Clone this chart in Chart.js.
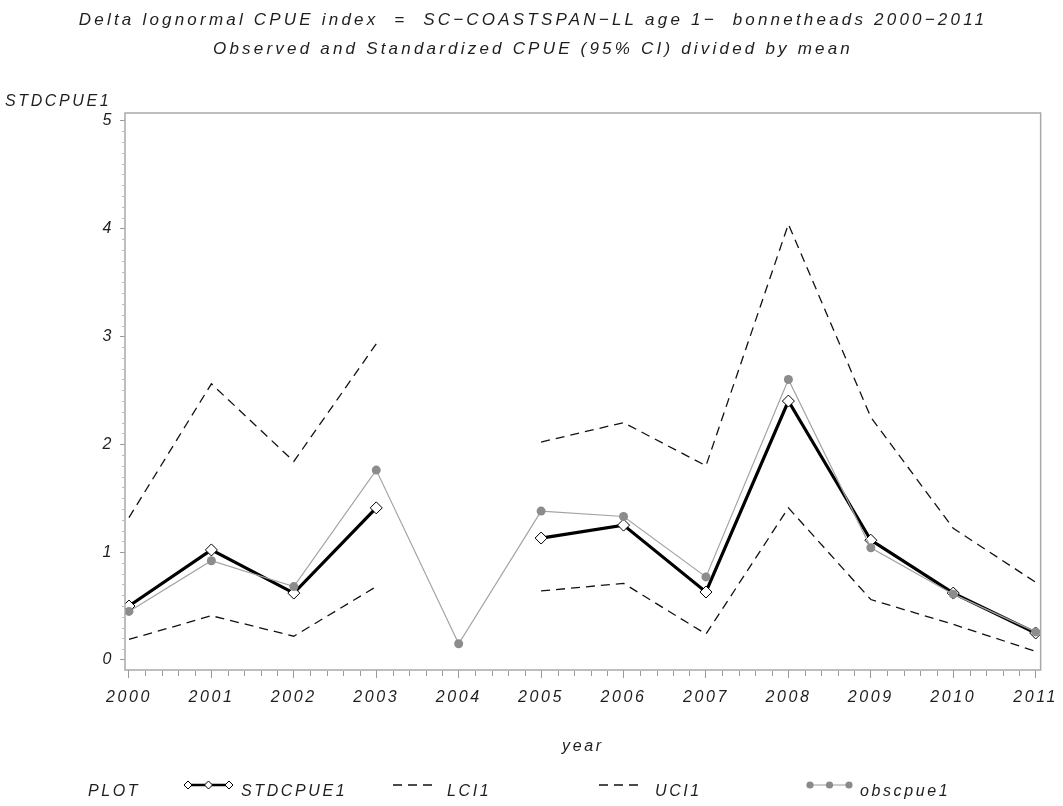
<!DOCTYPE html>
<html>
<head>
<meta charset="utf-8">
<script src="https://cdn.jsdelivr.net/npm/chart.js@4.4.1/dist/chart.umd.min.js"></script>
<style>
  html, body { margin: 0; padding: 0; background: #ffffff; }
  #wrap { width: 1063px; height: 806px; position: relative; }
</style>
</head>
<body>
<div id="wrap"><canvas id="c" width="1063" height="806"></canvas></div>
<script>
// Years on the horizontal axis
const years = [2000, 2001, 2002, 2003, 2004, 2005, 2006, 2007, 2008, 2009, 2010, 2011];
// Standardized CPUE (scaled by its mean) with 95% confidence limits; 2004 has no estimate
const stdcpue1 = [0.50, 1.02, 0.62, 1.41, null, 1.13, 1.25, 0.63, 2.40, 1.11, 0.62, 0.25];
const lci1     = [0.19, 0.41, 0.22, 0.68, null, 0.64, 0.71, 0.24, 1.41, 0.56, 0.33, 0.08];
const uci1     = [1.32, 2.56, 1.84, 2.93, null, 2.02, 2.20, 1.80, 4.04, 2.25, 1.22, 0.72];
// Observed CPUE (scaled by its mean)
const obscpue1 = [0.45, 0.92, 0.68, 1.76, 0.15, 1.38, 1.33, 0.77, 2.60, 1.04, 0.61, 0.26];
// Labelled ticks on the vertical axis
const yTicks = [0, 1, 2, 3, 4, 5];

const titleLines = [
  'Delta lognormal CPUE index  =  SC\u2212COASTSPAN\u2212LL age 1\u2212  bonnetheads 2000\u22122011',
  'Observed and Standardized CPUE (95% CI) divided by mean'
];
const yAxisLabel = 'STDCPUE1';
const xAxisLabel = 'year';

const FONT = "'Liberation Sans', Arial, sans-serif";
const TEXT = '#1e1e1e';
const SPACING = '2.6px';

const pts = arr => years.map((x, i) => ({ x: x, y: arr[i] }));

// Box round the plot area, minor ticks, titles and the legend row
const decor = {
  id: 'decor',
  beforeDraw(chart) {
    chart.ctx.letterSpacing = SPACING;
  },
  afterDraw(chart) {
    const { ctx, chartArea: a, scales } = chart;
    const xs = scales.x, ys = scales.y;
    ctx.save();
    ctx.letterSpacing = SPACING;

    // frame
    ctx.strokeStyle = '#a9a9a9';
    ctx.lineWidth = 1.5;
    ctx.strokeRect(a.left, a.top, a.right - a.left, a.bottom - a.top);

    // minor ticks on y (every 0.1)
    ctx.strokeStyle = '#bdbdbd';
    ctx.lineWidth = 1;
    for (let k = 1; k < 50; k++) {
      if (k % 10 === 0) continue;
      const py = Math.round(ys.getPixelForValue(k / 10)) + 0.5;
      ctx.beginPath();
      ctx.moveTo(a.left - 3, py);
      ctx.lineTo(a.left - 1, py);
      ctx.stroke();
    }
    // minor ticks on x (every 0.2 year)
    ctx.strokeStyle = '#9a9a9a';
    for (let i = 0; i < years.length - 1; i++) {
      for (let m = 1; m < 5; m++) {
        const px = Math.round(xs.getPixelForValue(years[i] + m / 5)) + 0.5;
        ctx.beginPath();
        ctx.moveTo(px, a.bottom + 1);
        ctx.lineTo(px, a.bottom + 6);
        ctx.stroke();
      }
    }

    // titles
    ctx.fillStyle = TEXT;
    ctx.save();
    ctx.letterSpacing = '3.2px';
    ctx.font = 'italic 17px ' + FONT;
    ctx.textAlign = 'center';
    ctx.textBaseline = 'alphabetic';
    ctx.fillText(titleLines[0], 533, 25);
    ctx.fillText(titleLines[1], 533, 54);
    ctx.restore();

    // axis labels
    ctx.font = 'italic 16px ' + FONT;
    ctx.textBaseline = 'alphabetic';
    ctx.textAlign = 'left';
    ctx.fillText(yAxisLabel, 5, 106);
    ctx.textAlign = 'center';
    ctx.fillText(xAxisLabel, (a.left + a.right) / 2, 751);

    // legend row
    const ly = 785, lb = 796;
    ctx.textAlign = 'left';
    ctx.fillText('PLOT', 88, lb);

    // STDCPUE1 sample
    ctx.strokeStyle = '#000';
    ctx.lineWidth = 2.5;
    ctx.beginPath(); ctx.moveTo(186, ly); ctx.lineTo(231, ly); ctx.stroke();
    ctx.lineWidth = 1;
    [188, 208.5, 229].forEach(cx => {
      ctx.beginPath();
      ctx.moveTo(cx, ly - 4); ctx.lineTo(cx + 4, ly); ctx.lineTo(cx, ly + 4); ctx.lineTo(cx - 4, ly); ctx.closePath();
      ctx.fillStyle = '#fff'; ctx.fill(); ctx.stroke();
    });
    ctx.fillStyle = TEXT;
    ctx.fillText('STDCPUE1', 241, lb);

    // LCI1 / UCI1 samples
    ctx.strokeStyle = '#111';
    ctx.lineWidth = 1.3;
    ctx.setLineDash([9, 6]);
    ctx.beginPath(); ctx.moveTo(393, ly); ctx.lineTo(436, ly); ctx.stroke();
    ctx.beginPath(); ctx.moveTo(599, ly); ctx.lineTo(642, ly); ctx.stroke();
    ctx.setLineDash([]);
    ctx.fillText('LCI1', 447, lb);
    ctx.fillText('UCI1', 655, lb);

    // obscpue1 sample
    ctx.strokeStyle = '#9a9a9a';
    ctx.lineWidth = 1.2;
    ctx.beginPath(); ctx.moveTo(808, ly); ctx.lineTo(851, ly); ctx.stroke();
    ctx.fillStyle = '#8a8a8a';
    [810, 829.5, 849].forEach(cx => {
      ctx.beginPath(); ctx.arc(cx, ly, 3.6, 0, Math.PI * 2); ctx.fill();
    });
    ctx.fillStyle = TEXT;
    ctx.fillText('obscpue1', 860, lb);

    ctx.restore();
  }
};

new Chart(document.getElementById('c'), {
  type: 'line',
  data: {
    datasets: [
      {
        label: 'obscpue1',
        data: pts(obscpue1),
        order: 0,
        borderColor: '#a3a3a3',
        borderWidth: 1.2,
        pointStyle: 'circle',
        pointRadius: 4.5,
        pointBackgroundColor: '#8c8c8c',
        pointBorderColor: '#8c8c8c',
        pointBorderWidth: 0,
        tension: 0,
        spanGaps: false
      },
      {
        label: 'STDCPUE1',
        data: pts(stdcpue1),
        order: 1,
        borderColor: '#000000',
        borderWidth: 3.2,
        pointStyle: 'rectRot',
        pointRadius: 6,
        pointBackgroundColor: '#ffffff',
        pointBorderColor: '#000000',
        pointBorderWidth: 1,
        tension: 0,
        spanGaps: false
      },
      {
        label: 'LCI1',
        data: pts(lci1),
        order: 2,
        borderColor: '#111111',
        borderWidth: 1.3,
        borderDash: [9, 6],
        pointRadius: 0,
        tension: 0,
        spanGaps: false
      },
      {
        label: 'UCI1',
        data: pts(uci1),
        order: 3,
        borderColor: '#111111',
        borderWidth: 1.3,
        borderDash: [9, 6],
        pointRadius: 0,
        tension: 0,
        spanGaps: false
      }
    ]
  },
  options: {
    responsive: false,
    animation: false,
    devicePixelRatio: 1,
    layout: { padding: { top: 113, right: 20, left: 0, bottom: 0 } },
    plugins: {
      legend: { display: false },
      title: { display: false },
      tooltip: { enabled: false }
    },
    scales: {
      x: {
        type: 'linear',
        min: 1999.952,
        max: 2011.06,
        afterBuildTicks: s => { s.ticks = years.map(v => ({ value: v })); },
        afterFit: s => { s.height = 136; },
        border: { display: false },
        grid: { drawOnChartArea: false, drawTicks: true, tickLength: 8, tickColor: '#9a9a9a', lineWidth: 1 },
        ticks: {
          autoSkip: false,
          maxRotation: 0,
          padding: 10,
          color: TEXT,
          font: { family: FONT, size: 16, style: 'italic' },
          callback: v => String(v)
        }
      },
      y: {
        type: 'linear',
        min: -0.093,
        max: 5.07,
        afterBuildTicks: s => { s.ticks = yTicks.map(v => ({ value: v })); },
        afterFit: s => { s.width = 125; },
        border: { display: false },
        grid: { drawOnChartArea: false, drawTicks: true, tickLength: 5, tickColor: '#9a9a9a', lineWidth: 1 },
        ticks: {
          autoSkip: false,
          padding: 6,
          color: TEXT,
          font: { family: FONT, size: 16, style: 'italic' },
          callback: v => String(v)
        }
      }
    }
  },
  plugins: [decor]
});
</script>
</body>
</html>
